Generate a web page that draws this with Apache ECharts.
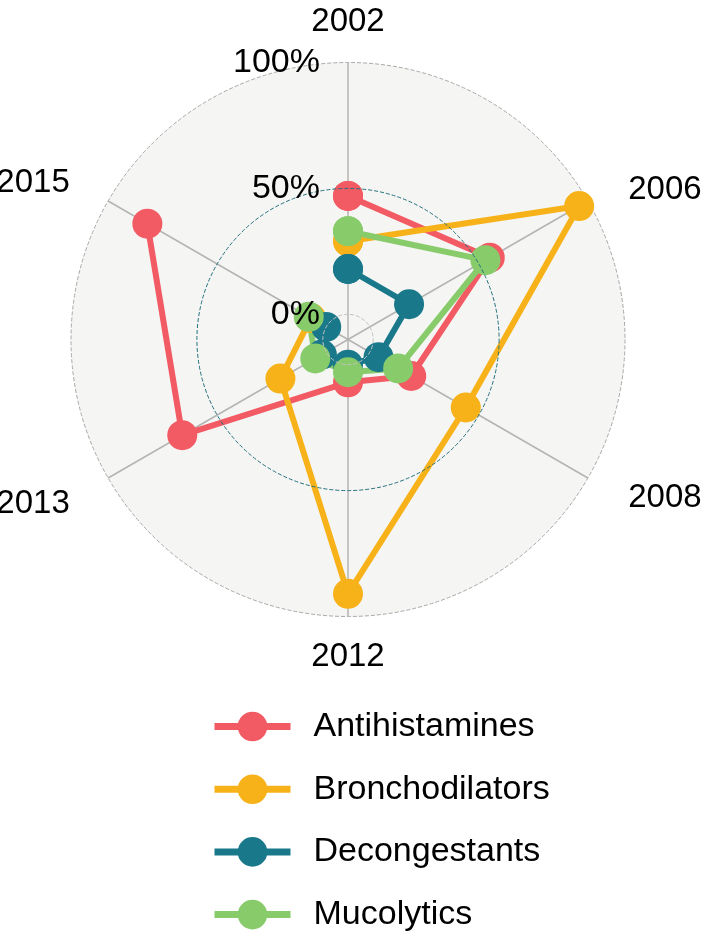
<!DOCTYPE html>
<html>
<head>
<meta charset="utf-8">
<script src="https://cdn.jsdelivr.net/npm/echarts@6/dist/echarts.min.js"></script>
<style>
  html, body { margin: 0; padding: 0; background: #fff; }
  #main { width: 709px; height: 936px; }
</style>
</head>
<body>
<div id="main"></div>
<script>
// data (share, %)
var years = ['2002', '2006', '2008', '2012', '2013', '2015'];
var antihistamines = [47, 55, 19, 7, 66, 82];
var bronchodilators = [29, 96, 44, 91, 21, 7];
var decongestants = [18, 18, 4, 0, 2, 0];
var mucolytics = [33, 53, 13, 3, 5, 8];
var radiusTicks = [0, 50, 100];

var FONT = '"Liberation Sans", Arial, Helvetica, sans-serif';
var CENTER = [348, 339.5];
var RADIUS = 277;
// nudges for the year labels (outside the circle)
var yearPad = {
  '2002': [0, 0, 34, 0],
  '2006': [0, 0, 0, 49],
  '2008': [8, 0, 0, 49],
  '2012': [34, 0, 0, 0],
  '2013': [14, 47, 0, 0],
  '2015': [0, 47, 7, 0]
};

function loop(values) {
  var pts = values.map(function (v, i) { return [v, i]; });
  pts.push([values[0], 0]);
  return pts;
}

function radarLine(name, values, color) {
  return {
    name: name,
    type: 'line',
    coordinateSystem: 'polar',
    polarIndex: 1,
    clip: false,
    data: loop(values),
    symbol: 'circle',
    symbolSize: 30,
    showAllSymbol: true,
    lineStyle: { color: color, width: 6 },
    itemStyle: { color: color },
    z: 3
  };
}

// split circles at -10..100: keep 0 and 50 (100 is the outer rim)
var splitColors = [];
for (var t = -10; t <= 100; t += 10) {
  if (t === 0) splitColors.push('#c2c2c2');
  else if (t === 50) splitColors.push('#23707d');
  else splitColors.push('rgba(0,0,0,0)');
}

var chart = echarts.init(document.getElementById('main'));
chart.setOption({
  animation: false,
  backgroundColor: '#fff',
  textStyle: { fontFamily: FONT },
  polar: [
    { center: CENTER, radius: RADIUS },
    { center: CENTER, radius: RADIUS }
  ],
  angleAxis: [{
    // background disc + dashed rim
    polarIndex: 0,
    type: 'value',
    min: 0,
    max: 360,
    interval: 90,
    startAngle: 90,
    z: 0,
    axisLine: { show: true, lineStyle: { color: '#a8a8a8', type: 'dashed', width: 1 } },
    axisTick: { show: false },
    axisLabel: { show: false },
    splitLine: { show: false },
    splitArea: { show: true, areaStyle: { color: ['#f5f5f3'] } }
  }, {
    // spokes + year labels
    polarIndex: 1,
    type: 'category',
    data: years.map(function (y) {
      return { value: y, textStyle: { padding: yearPad[y] } };
    }),
    startAngle: 90,
    clockwise: true,
    boundaryGap: false,
    z: 1,
    axisLine: { show: false },
    axisTick: { show: false },
    splitLine: { show: true, lineStyle: { color: '#b4b4b4', width: 1.5 } },
    axisLabel: { margin: -10, fontSize: 33, color: '#000', fontFamily: FONT }
  }],
  radiusAxis: [{
    polarIndex: 0,
    type: 'value',
    min: -10,
    max: 100,
    interval: 10,
    z: 10,
    axisLine: { show: false },
    axisTick: { show: false },
    splitLine: { show: true, lineStyle: { type: 'dashed', width: 1, color: splitColors } },
    axisLabel: {
      margin: 28,
      fontSize: 34,
      color: '#000',
      fontFamily: FONT,
      padding: [6, 0, 0, 0],
      formatter: function (v) {
        return radiusTicks.indexOf(v) >= 0 ? v + '%' : '';
      }
    }
  }, {
    polarIndex: 1,
    type: 'value',
    min: -10,
    max: 100,
    show: false
  }],
  legend: {
    orient: 'vertical',
    left: 211,
    top: 708,
    padding: 0,
    itemWidth: 76,
    itemHeight: 37,
    itemGap: 25.7,
    lineStyle: { width: 7 },
    data: ['Antihistamines', 'Bronchodilators', 'Decongestants', 'Mucolytics'],
    textStyle: { fontSize: 34, color: '#000', fontFamily: FONT, lineHeight: 37, padding: [0, 0, 0, 18] }
  },
  series: [
    radarLine('Antihistamines', antihistamines, '#f25a64'),
    radarLine('Bronchodilators', bronchodilators, '#f7b21a'),
    radarLine('Decongestants', decongestants, '#19788a'),
    radarLine('Mucolytics', mucolytics, '#88cb6b')
  ]
});
</script>
</body>
</html>
